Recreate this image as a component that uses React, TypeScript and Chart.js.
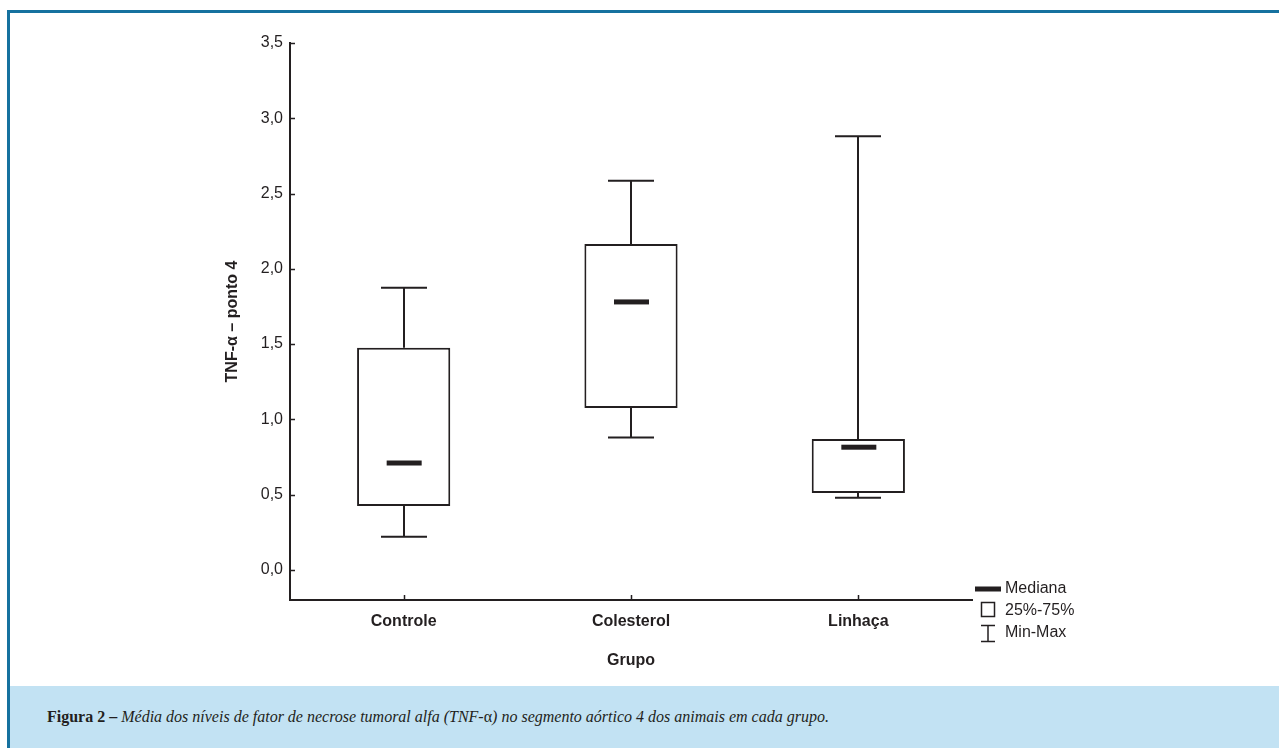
import React, { useEffect, useRef } from "react";
import { Chart, registerables } from "chart.js";

Chart.register(...registerables);

const categories = ["Controle", "Colesterol", "Linhaça"];
const minValues = [0.22, 0.88, 0.48];
const q1Values = [0.425, 1.075, 0.51];
const medianValues = [0.71, 1.78, 0.815];
const q3Values = [1.475, 2.165, 0.87];
const maxValues = [1.875, 2.585, 2.88];
const yTickValues = [0, 0.5, 1, 1.5, 2, 2.5, 3, 3.5];
const legendLabels = ["Mediana", "25%-75%", "Min-Max"];

const INK = "#231f20";
const FONT = "'Liberation Sans', Arial, sans-serif";

const boxPlugin = {
  id: "boxWhiskers",
  beforeDatasetsDraw(chart: any) {
    const { ctx, scales } = chart;
    const x = scales.x;
    const y = scales.y;
    ctx.save();
    ctx.strokeStyle = INK;
    ctx.lineWidth = 2;
    categories.forEach((_, i) => {
      const cx = Math.round(x.getPixelForValue(i));
      const capHalf = 23;
      const yMin = y.getPixelForValue(minValues[i]);
      const yQ1 = y.getPixelForValue(q1Values[i]);
      const yQ3 = y.getPixelForValue(q3Values[i]);
      const yMax = y.getPixelForValue(maxValues[i]);
      ctx.beginPath();
      ctx.moveTo(cx, yMin);
      ctx.lineTo(cx, yQ1);
      ctx.moveTo(cx, yQ3);
      ctx.lineTo(cx, yMax);
      ctx.moveTo(cx - capHalf, yMin);
      ctx.lineTo(cx + capHalf, yMin);
      ctx.moveTo(cx - capHalf, yMax);
      ctx.lineTo(cx + capHalf, yMax);
      ctx.stroke();
    });
    ctx.restore();
  },
  afterDatasetsDraw(chart: any) {
    const { ctx, scales, chartArea } = chart;
    const x = scales.x;
    const y = scales.y;
    ctx.save();
    ctx.fillStyle = INK;
    categories.forEach((_, i) => {
      const cx = x.getPixelForValue(i);
      const ym = y.getPixelForValue(medianValues[i]);
      ctx.fillRect(cx - 17, ym - 2.5, 35, 5);
    });
    // inward tick marks
    ctx.strokeStyle = INK;
    ctx.lineWidth = 1.5;
    ctx.beginPath();
    yTickValues.forEach((v) => {
      const py = Math.round(y.getPixelForValue(v)) + 0.5;
      ctx.moveTo(chartArea.left, py);
      ctx.lineTo(chartArea.left + 5, py);
    });
    categories.forEach((_, i) => {
      const px = Math.round(x.getPixelForValue(i)) + 0.5;
      ctx.moveTo(px, chartArea.bottom);
      ctx.lineTo(px, chartArea.bottom - 5);
    });
    ctx.stroke();
    ctx.restore();
  },
  afterDraw(chart: any) {
    const { ctx, chartArea } = chart;
    const lx = chartArea.right + 3;
    const ly = chartArea.bottom - 11;
    ctx.save();
    ctx.fillStyle = INK;
    ctx.strokeStyle = INK;
    // Mediana symbol
    ctx.fillRect(lx, ly - 2.5, 26, 5);
    // box symbol
    ctx.lineWidth = 1.5;
    ctx.strokeRect(lx + 6.5, ly + 13.5, 13, 14);
    // min-max symbol
    ctx.beginPath();
    ctx.moveTo(lx + 6, ly + 36.5);
    ctx.lineTo(lx + 20, ly + 36.5);
    ctx.moveTo(lx + 13, ly + 36.5);
    ctx.lineTo(lx + 13, ly + 52.5);
    ctx.moveTo(lx + 6, ly + 52.5);
    ctx.lineTo(lx + 20, ly + 52.5);
    ctx.stroke();
    ctx.font = `16px ${FONT}`;
    ctx.textBaseline = "middle";
    ctx.textAlign = "left";
    legendLabels.forEach((t, i) => {
      ctx.fillText(t, lx + 30, ly + i * 22);
    });
    ctx.restore();
  },
};

function BoxChart() {
  const ref = useRef<HTMLCanvasElement | null>(null);
  useEffect(() => {
    if (!ref.current) return;
    const chart = new Chart(ref.current, {
      type: "bar",
      data: {
        labels: categories,
        datasets: [
          {
            data: categories.map((_, i) => [q1Values[i], q3Values[i]]) as any,
            backgroundColor: "#ffffff",
            borderColor: INK,
            borderWidth: 2,
            borderSkipped: false,
            barPercentage: 0.41,
            categoryPercentage: 1,
          },
        ],
      },
      options: {
        responsive: false,
        animation: false,
        devicePixelRatio: 1,
        layout: { padding: { top: 43, right: 307, bottom: 0, left: 0 } },
        plugins: {
          legend: { display: false },
          tooltip: { enabled: false },
        },
        scales: {
          x: {
            grid: { display: false, drawTicks: false },
            border: { display: true, color: INK, width: 2 },
            ticks: {
              color: INK,
              padding: 12,
              font: { family: FONT, size: 16, weight: "bold" },
            },
            title: {
              display: true,
              text: "Grupo",
              color: INK,
              font: { family: FONT, size: 16, weight: "bold" },
              padding: { top: 0, bottom: 16 },
            },
            afterFit: (scale: any) => {
              scale.height = 86;
            },
          },
          y: {
            min: -0.2,
            max: 3.5,
            grid: { display: false, drawTicks: false },
            border: { display: true, color: INK, width: 2 },
            afterBuildTicks: (scale: any) => {
              scale.ticks = yTickValues.map((v) => ({ value: v }));
            },
            ticks: {
              color: INK,
              padding: 7,
              font: { family: FONT, size: 16 },
              callback: (v: any) => Number(v).toFixed(1).replace(".", ","),
            },
            title: {
              display: true,
              text: "TNF-α – ponto 4",
              color: INK,
              font: { family: FONT, size: 16, weight: "bold" },
              padding: { top: 223, bottom: 0 },
            },
            afterFit: (scale: any) => {
              scale.width = 290;
            },
          },
        },
      },
      plugins: [boxPlugin],
    });
    return () => chart.destroy();
  }, []);
  return (
    <canvas
      ref={ref}
      width={1279}
      height={686}
      style={{ position: "absolute", left: 0, top: 0, width: 1279, height: 686 }}
    />
  );
}

export default function App() {
  return (
    <div
      style={{
        position: "fixed",
        left: 0,
        top: 0,
        width: 1279,
        height: 748,
        background: "#ffffff",
        overflow: "hidden",
      }}
    >
      <div style={{ position: "absolute", left: 7, top: 10, right: 0, height: 3, background: "#16719f" }} />
      <div style={{ position: "absolute", left: 7, top: 10, width: 3, bottom: 0, background: "#16719f" }} />
      <div
        style={{
          position: "absolute",
          left: 10,
          top: 686,
          right: 0,
          bottom: 0,
          background: "#c2e2f3",
        }}
      />
      <BoxChart />
      <div
        style={{
          position: "absolute",
          left: 47,
          top: 686,
          height: 62,
          lineHeight: "62px",
          fontFamily: "'Liberation Serif', 'Times New Roman', serif",
          fontSize: 16,
          color: INK,
          whiteSpace: "nowrap",
        }}
      >
        <b>Figura 2 –</b>{" "}
        <i>
          Média dos níveis de fator de necrose tumoral alfa (TNF-<span style={{ fontStyle: "normal" }}>α</span>) no
          segmento aórtico 4 dos animais em cada grupo.
        </i>
      </div>
    </div>
  );
}
